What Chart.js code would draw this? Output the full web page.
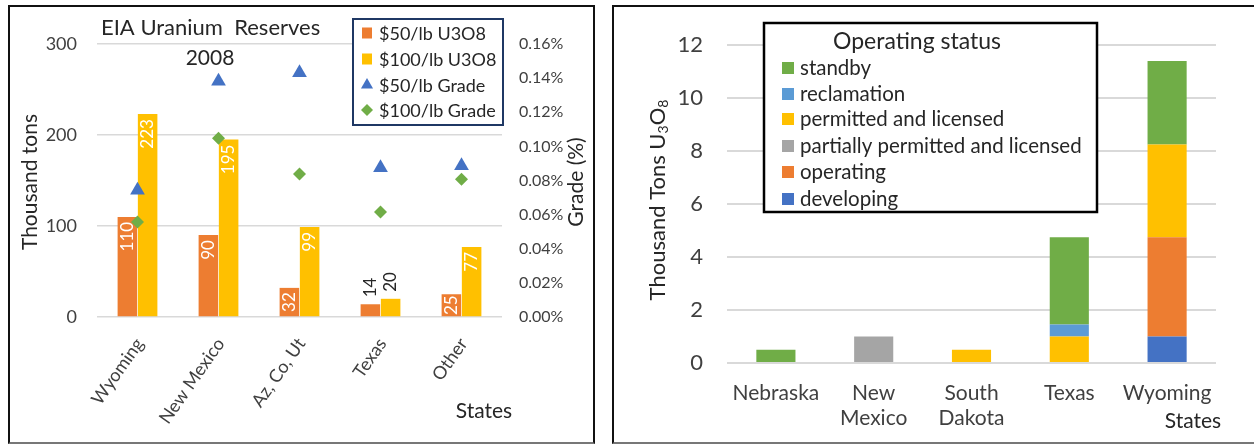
<!DOCTYPE html>
<html>
<head>
<meta charset="utf-8">
<script src="https://cdn.jsdelivr.net/npm/chart.js@4.4.1/dist/chart.umd.min.js"></script>
<style>
  html, body { margin: 0; padding: 0; background: #fff; width: 1254px; height: 444px; overflow: hidden; }
  .panel { position: absolute; box-sizing: border-box; border: 2.5px solid #111; border-bottom: 2px solid #777; }
  #p1 { left: 8px; top: 5px; width: 587px; height: 439px; }
  #p2 { left: 612px; top: 5px; width: 660px; height: 439px; border-right: none; }
  canvas { position: absolute; }
  #reserves { left: 10px; top: 8px; }
  #status { left: 616px; top: 8px; }
</style>
</head>
<body>
<div class="panel" id="p1"></div>
<div class="panel" id="p2"></div>
<canvas id="reserves" width="581" height="433"></canvas>
<canvas id="status" width="638" height="433"></canvas>
<script>
// ---- EIA uranium reserves, 2008 (thousand tons U3O8 and average grade) ----
const reserveStates = ['Wyoming', 'New Mexico', 'Az, Co, Ut', 'Texas', 'Other'];
const reserves50 = [110, 90, 32, 14, 25];
const reserves100 = [223, 195, 99, 20, 77];
const grade50 = [0.0743, 0.1382, 0.1431, 0.0874, 0.0886];
const grade100 = [0.0557, 0.1047, 0.0838, 0.0615, 0.0807];
const tonTicks = [0, 100, 200, 300];
const gradeTicks = [0, 0.02, 0.04, 0.06, 0.08, 0.10, 0.12, 0.14, 0.16];

// ---- ISR project resources by operating status (thousand tons U3O8) ----
const statusStates = ['Nebraska', ['New', 'Mexico'], ['South', 'Dakota'], 'Texas', 'Wyoming'];
const developing = [0, 0, 0, 0, 1.0];
const operating = [0, 0, 0, 0, 3.75];
const partiallyPermitted = [0, 1.0, 0, 0, 0];
const permitted = [0, 0, 0.5, 1.0, 3.5];
const reclamation = [0, 0, 0, 0.45, 0];
const standby = [0.5, 0, 0, 3.3, 3.15];
const statusTicks = [0, 2, 4, 6, 8, 10, 12];

const FAMILY = 'Lato, "Noto Sans", sans-serif';
const font = (size) => size + 'px ' + FAMILY;
const TEXT = '#262626';
const TICK = '#404040';
const GRID = '#d9d9d9';

function marker(ctx, style, color, x, y, r) {
  ctx.fillStyle = color;
  Chart.helpers.drawPoint(ctx, { pointStyle: style, radius: r, rotation: 0, borderWidth: 0 }, x, y);
}

function rotatedText(ctx, txt, x, y, size, color) {
  ctx.save();
  ctx.translate(x, y);
  ctx.rotate(-Math.PI / 2);
  ctx.font = font(size);
  ctx.fillStyle = color;
  ctx.textAlign = 'center';
  ctx.textBaseline = 'middle';
  ctx.fillText(txt, 0, 0);
  ctx.restore();
}

// value labels, titles and legend of the reserves chart
const reservesDecor = {
  id: 'reservesDecor',
  afterDatasetsDraw(chart) {
    const ctx = chart.ctx;
    [0, 1].forEach((di) => {
      const values = chart.data.datasets[di].data;
      chart.getDatasetMeta(di).data.forEach((bar, i) => {
        const txt = String(values[i]);
        ctx.save();
        ctx.font = font(17);
        const w = ctx.measureText(txt).width;
        const h = bar.base - bar.y;
        ctx.textBaseline = 'middle';
        if (h >= w + 2) {
          const gap = Math.min(5, (h - w) / 2);
          ctx.translate(bar.x, bar.y + gap);
          ctx.rotate(-Math.PI / 2);
          ctx.textAlign = 'right';
          ctx.fillStyle = '#ffffff';
        } else {
          ctx.translate(bar.x, bar.y - 7);
          ctx.rotate(-Math.PI / 2);
          ctx.textAlign = 'left';
          ctx.fillStyle = TEXT;
        }
        ctx.fillText(txt, 0, 0);
        ctx.restore();
      });
    });
  },
  afterDraw(chart) {
    const ctx = chart.ctx;
    ctx.save();
    ctx.fillStyle = TEXT;
    ctx.textBaseline = 'middle';
    ctx.font = font(22);
    ctx.textAlign = 'left';
    ctx.fillText('EIA Uranium  Reserves', 91, 20);
    ctx.textAlign = 'center';
    ctx.font = font(21);
    ctx.fillText('2008', 200, 50);
    ctx.fillText('States', 474, 403);
    ctx.restore();

    rotatedText(ctx, 'Thousand tons', 20, 174, 21, TEXT);
    rotatedText(ctx, 'Grade (%)', 566, 174, 21, TEXT);

    // legend box
    ctx.save();
    ctx.fillStyle = '#ffffff';
    ctx.fillRect(343, 11, 150, 106);
    ctx.strokeStyle = '#1F3864';
    ctx.lineWidth = 2;
    ctx.strokeRect(343, 11, 150, 106);
    const rows = [25, 51, 77, 102];
    chart.data.datasets.forEach((ds, i) => {
      const y = rows[i];
      if (ds.type === 'bar') {
        ctx.fillStyle = ds.backgroundColor;
        ctx.fillRect(352, y - 5.5, 10, 11);
      } else {
        marker(ctx, ds.pointStyle, ds.backgroundColor, 357, y, ds.pointStyle === 'triangle' ? 7 : 6);
      }
      ctx.fillStyle = TEXT;
      ctx.font = font(18);
      ctx.textAlign = 'left';
      ctx.textBaseline = 'middle';
      ctx.fillText(ds.label, 369, y + 1);
    });
    ctx.restore();
  }
};

new Chart(document.getElementById('reserves'), {
  type: 'bar',
  data: {
    labels: reserveStates,
    datasets: [
      { type: 'bar', label: '$50/lb U3O8', data: reserves50, backgroundColor: '#ED7D31', yAxisID: 'y', order: 2,
        categoryPercentage: 0.5, barPercentage: 0.965 },
      { type: 'bar', label: '$100/lb U3O8', data: reserves100, backgroundColor: '#FFC000', yAxisID: 'y', order: 2,
        categoryPercentage: 0.5, barPercentage: 0.965 },
      { type: 'line', label: '$50/lb Grade', data: grade50, yAxisID: 'y2', order: 1, showLine: false,
        pointStyle: 'triangle', pointRadius: 8.5, backgroundColor: '#4472C4', borderColor: '#4472C4', pointBorderWidth: 0 },
      { type: 'line', label: '$100/lb Grade', data: grade100, yAxisID: 'y2', order: 1, showLine: false,
        pointStyle: 'rectRot', pointRadius: 6.5, backgroundColor: '#70AD47', borderColor: '#70AD47', pointBorderWidth: 0 }
    ]
  },
  options: {
    responsive: false,
    animation: false,
    events: [],
    layout: { padding: { top: 36, left: 0, right: 0, bottom: 0 } },
    plugins: { legend: { display: false }, tooltip: { enabled: false } },
    scales: {
      x: {
        grid: { display: false }, border: { display: false },
        ticks: { font: { family: FAMILY, size: 18 }, color: TICK, minRotation: 55, maxRotation: 55,
                 padding: 9, labelOffset: 2, autoSkip: false },
        afterFit(s) { s.height = 124; }
      },
      y: {
        position: 'left', min: 0, max: 300,
        afterBuildTicks(s) { s.ticks = tonTicks.map((v) => ({ value: v })); },
        ticks: { font: { family: FAMILY, size: 18 }, color: TICK, padding: 20 },
        grid: { color: GRID, lineWidth: 1.5, drawTicks: false }, border: { display: false },
        afterFit(s) { s.width = 87; }
      },
      y2: {
        position: 'right', min: 0, max: 0.16,
        afterBuildTicks(s) { s.ticks = gradeTicks.map((v) => ({ value: v })); },
        ticks: { font: { family: FAMILY, size: 16 }, color: TICK, padding: 17,
                 callback: (v) => Number(v).toFixed(2) + '%' },
        grid: { display: false, drawTicks: false }, border: { display: false },
        afterFit(s) { s.width = 89; }
      }
    }
  },
  plugins: [reservesDecor]
});

// titles and legend of the operating-status chart
const statusDecor = {
  id: 'statusDecor',
  afterDraw(chart) {
    const ctx = chart.ctx;
    // axis title with subscripted U3O8
    ctx.save();
    const parts = [['Thousand Tons U', 22, 0], ['3', 14, 5], ['O', 22, 0], ['8', 14, 5]];
    let total = 0;
    parts.forEach((p) => { ctx.font = font(p[1]); total += ctx.measureText(p[0]).width; });
    ctx.translate(42, 192);
    ctx.rotate(-Math.PI / 2);
    ctx.fillStyle = TEXT;
    ctx.textBaseline = 'middle';
    ctx.textAlign = 'left';
    let x = -total / 2;
    parts.forEach((p) => {
      ctx.font = font(p[1]);
      ctx.fillText(p[0], x, p[2]);
      x += ctx.measureText(p[0]).width;
    });
    ctx.restore();

    ctx.save();
    ctx.fillStyle = TEXT;
    ctx.font = font(21);
    ctx.textAlign = 'center';
    ctx.textBaseline = 'middle';
    ctx.fillText('States', 577, 413);

    // legend box
    ctx.fillStyle = '#ffffff';
    ctx.fillRect(148, 15, 333, 189);
    ctx.strokeStyle = '#000000';
    ctx.lineWidth = 2.5;
    ctx.strokeRect(148, 15, 333, 189);
    ctx.fillStyle = TEXT;
    ctx.font = font(23);
    ctx.textAlign = 'center';
    ctx.fillText('Operating status', 301, 34);
    const rows = [60, 86, 111, 138, 164, 191];
    const sets = chart.data.datasets.slice().reverse();
    sets.forEach((ds, i) => {
      const y = rows[i];
      ctx.fillStyle = ds.backgroundColor;
      ctx.fillRect(166, y - 6, 12, 12);
      ctx.fillStyle = TEXT;
      ctx.font = font(20.5);
      ctx.textAlign = 'left';
      ctx.fillText(ds.label, 184, y);
    });
    ctx.restore();
  }
};

const stackBar = { categoryPercentage: 0.8, barPercentage: 0.5, borderWidth: 0 };
new Chart(document.getElementById('status'), {
  type: 'bar',
  data: {
    labels: statusStates,
    datasets: [
      { label: 'developing', data: developing, backgroundColor: '#4472C4', ...stackBar },
      { label: 'operating', data: operating, backgroundColor: '#ED7D31', ...stackBar },
      { label: 'partially permitted and licensed', data: partiallyPermitted, backgroundColor: '#A5A5A5', ...stackBar },
      { label: 'permitted and licensed', data: permitted, backgroundColor: '#FFC000', ...stackBar },
      { label: 'reclamation', data: reclamation, backgroundColor: '#5B9BD5', ...stackBar },
      { label: 'standby', data: standby, backgroundColor: '#70AD47', ...stackBar }
    ]
  },
  options: {
    responsive: false,
    animation: false,
    events: [],
    layout: { padding: { top: 26, left: 0, right: 38, bottom: 0 } },
    plugins: { legend: { display: false }, tooltip: { enabled: false } },
    scales: {
      x: {
        stacked: true,
        grid: { display: false }, border: { display: false },
        ticks: { font: { family: FAMILY, size: 21, lineHeight: 1.22 }, color: TICK, maxRotation: 0,
                 padding: 9, autoSkip: false },
        afterFit(s) { s.height = 78; }
      },
      y: {
        stacked: true, min: 0, max: 12,
        afterBuildTicks(s) { s.ticks = statusTicks.map((v) => ({ value: v })); },
        ticks: { font: { family: FAMILY, size: 22 }, color: TICK, padding: 24 },
        grid: { color: GRID, lineWidth: 2, drawTicks: false }, border: { display: false },
        afterFit(s) { s.width = 111; }
      }
    }
  },
  plugins: [statusDecor]
});
</script>
</body>
</html>
